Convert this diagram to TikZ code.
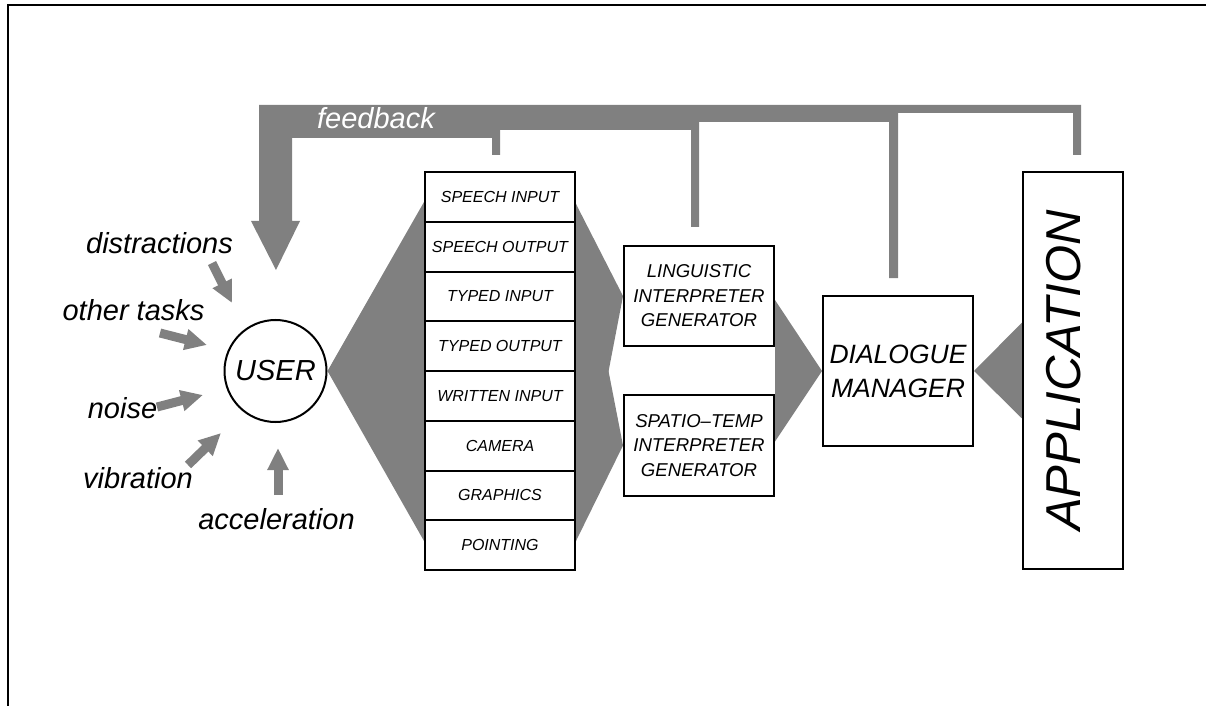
\documentclass[tikz,border=0pt]{standalone}
\usepackage{fontspec}
\setmainfont{Liberation Sans}
\usepackage{graphicx}
\usetikzlibrary{calc,arrows.meta,backgrounds}

\begin{document}
\begin{tikzpicture}[x=0.5pt,y=-0.5pt,
	box/.style={draw,line width=1pt,fill=white,align=center,inner sep=0pt,font=\itshape},
	modbox/.style={box,minimum width=75pt,minimum height=24.875pt,font=\itshape\fontsize{8}{9}\selectfont},
	procbox/.style={box,minimum width=75pt,minimum height=50pt,font=\itshape\fontsize{9.3}{12.25}\selectfont},
	cause/.style={anchor=base,inner sep=0pt,font=\itshape\fontsize{14.5}{17}\selectfont},
	force/.style={draw=gray,line width=4.5pt,-{Triangle[length=11pt,width=10pt]}}]
		\useasboundingbox (0,0) rectangle (1206,706);
		\draw[line width=1pt] (7.5,706) -- (7.5,5.5) -- (1206,5.5);
		
		\node[circle,draw,line width=1pt,minimum size=51pt,inner sep=0pt,font=\itshape\fontsize{14.5}{17}\selectfont] (user) at (275.5,371) {USER};
		\foreach \mod [count=\i] in {SPEECH INPUT,SPEECH OUTPUT,TYPED INPUT,TYPED OUTPUT,WRITTEN INPUT,CAMERA,GRAPHICS,POINTING}
		{
		\node[modbox] (m\i) at (500,{172+49.75*(\i-0.5)}) {\mod};
		}
		\node[procbox] (ling) at (699,296) {LINGUISTIC\\INTERPRETER\\GENERATOR};
		\node[procbox,minimum height=50.5pt] (spatio) at (699,445.5) {SPATIO--TEMP\\INTERPRETER\\GENERATOR};
		\node[box,minimum size=75pt,font=\itshape\fontsize{13.25}{17}\selectfont] (dm) at (898,371) {DIALOGUE\\MANAGER};
		\node[box,minimum width=50pt,minimum height=198.5pt,font=\itshape\fontsize{24.5}{29}\selectfont] (app) at (1073,370.5) {\rotatebox{90}{APPLICATION}\hspace{9pt}};
		
		% wedges between the stages
		\begin{scope}[on background layer]
		\fill[gray] (user.east) -- ($(m1.north west)+(0,31)$) -- ($(m8.south west)+(0,-30)$) -- cycle;
		\fill[gray] ($(m1.north east)+(0,33)$) -- (ling.west) -- ($(m8.south east)+(0,-30)$) -- cycle;
		\fill[gray] ($(m1.north east)+(0,33)$) -- (spatio.west) -- ($(m8.south east)+(0,-30)$) -- cycle;
		\fill[gray] ($(ling.east)+(0,4)$) -- (dm.west) -- ($(spatio.east)+(0,-4)$) -- cycle;
		\fill[gray] ($(app.west)+(0,-48)$) -- (dm.east) -- ($(app.west)+(0,48)$) -- cycle;
		\end{scope}
		
		% feedback pipe
		\fill[gray] (1081,155) -- (1081,105) -- (259,105) -- (259,221) -- (251,221) -- (276,270) -- (300,221) -- (292,221) -- (292,138) -- (492,138) -- (492,155) -- (500,155) -- (500,130) -- (691,130) -- (691,227) -- (699,227) -- (699,122) -- (889,122) -- (889,278) -- (898,278) -- (898,113) -- (1073,113) -- (1073,155) -- cycle;
		\node[cause,white] (fb) at (376,129) {feedback};
		
		\node[cause] (distr) at (159.5,253) {distractions};
		\node[cause] (tasks) at (133.5,321) {other tasks};
		\node[cause] (noise) at (122.5,418) {noise};
		\node[cause] (vibr) at (138,488) {vibration};
		\node[cause] (accel) at (276.5,529) {acceleration};
		\foreach \sx/\sy/\ex/\ey in {-63.5/-108/-43.5/-68,-115.5/-38/-68.5/-26,-118.5/36/-72.5/24,-87.5/94/-54.5/62,2.5/124/2.5/77}
		{
		\draw[force] ($(user)+(\sx,\sy)$) -- ($(user)+(\ex,\ey)$);
		}
	\end{tikzpicture}
\end{document}
